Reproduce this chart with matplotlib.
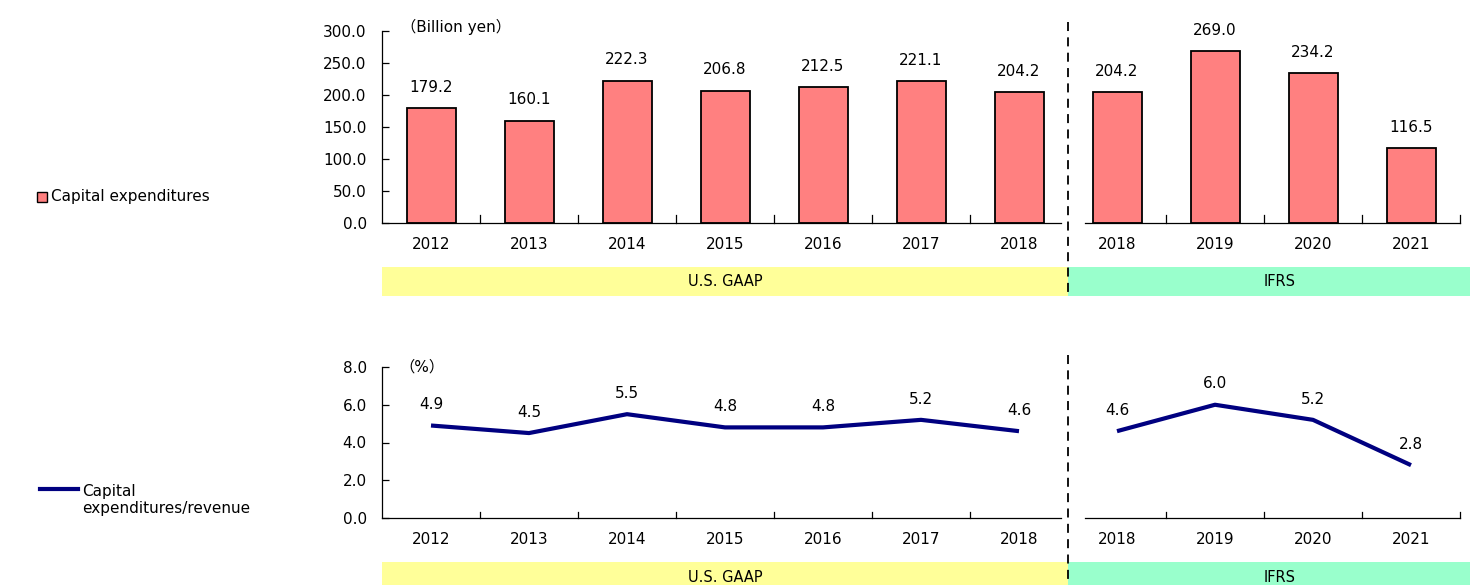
import numpy as np
import matplotlib
matplotlib.use("Agg")
import matplotlib.pyplot as plt
from matplotlib.patches import Rectangle
from matplotlib.lines import Line2D

plt.rcParams['font.family'] = ['DejaVu Sans', 'Noto Sans CJK JP']

# data
years = ['2012', '2013', '2014', '2015', '2016', '2017', '2018',
         '2018', '2019', '2020', '2021']
capex = [179.2, 160.1, 222.3, 206.8, 212.5, 221.1, 204.2,
         204.2, 269.0, 234.2, 116.5]
capex_ratio = [4.9, 4.5, 5.5, 4.8, 4.8, 5.2, 4.6,
               4.6, 6.0, 5.2, 2.8]
n_gaap = 7  # first 7 points are U.S. GAAP, rest IFRS
standards = ['U.S. GAAP', 'IFRS']

W, H = 1470, 585
fig = plt.figure(figsize=(W / 100, H / 100), dpi=100)

bar_red = '#FF8080'
navy = '#000080'
yellow = '#FFFF99'
green = '#99FFCC'
fs = 11


def px_axes(left, top, right, bottom):
    # axes from pixel box (origin top-left)
    return fig.add_axes([left / W, 1 - bottom / H, (right - left) / W, (bottom - top) / H])


def px_rect(left, top, right, bottom, color):
    fig.add_artist(Rectangle((left / W, 1 - bottom / H), (right - left) / W, (bottom - top) / H,
                             transform=fig.transFigure, facecolor=color, edgecolor='none', zorder=0))


def style_axis(ax):
    x = np.arange(len(years))
    ax.set_xlim(-0.5, len(years) - 0.5)
    for s in ['top', 'right', 'bottom']:
        ax.spines[s].set_visible(False)
    ax.spines['left'].set_linewidth(0.9)
    # bottom axis line with a gap at the change of standard
    ax.plot([-0.5, n_gaap - 0.57], [0, 0], color='black', lw=0.9, clip_on=False, zorder=3)
    ax.plot([n_gaap - 0.33, len(years) - 0.5], [0, 0], color='black', lw=0.9, clip_on=False, zorder=3)
    ax.set_xticks(x)
    ax.set_xticklabels(years, fontsize=fs)
    ax.tick_params(axis='x', length=0, pad=10)
    bounds = [b + 0.5 for b in range(len(years)) if b != n_gaap - 1]
    for b in bounds:
        ax.plot([b, b], [0, 0.04], transform=ax.get_xaxis_transform(), color='black', lw=0.9, clip_on=False)
    ax.tick_params(axis='y', direction='in', length=5, width=0.9, labelsize=fs, pad=11)
    ax.axvline(n_gaap - 0.5, color='black', lw=1.3, ls=(0, (5, 3.5)))


# ---- top: capital expenditures (bars)
ax1 = px_axes(382, 31, 1460, 223)
x = np.arange(len(years))
ax1.bar(x, capex, width=0.5, color=bar_red, edgecolor='black', linewidth=1.3, zorder=2)
ax1.set_ylim(0, 300)
ax1.set_yticks(np.arange(0, 301, 50))
ax1.set_yticklabels([f'{v:.1f}' for v in np.arange(0, 301, 50)])
style_axis(ax1)
for xi, v in zip(x, capex):
    ax1.annotate(f'{v:.1f}', (xi, v), xytext=(0, 15), textcoords='offset points',
                 ha='center', va='center', fontsize=fs)
ax1.lines[-1].set_ydata([1.047, -0.38])
ax1.lines[-1].set_clip_on(False)
ax1.text(0.018, 1.02, '（Billion yen）', transform=ax1.transAxes, fontsize=fs, va='center', ha='left')

# ---- bottom: capex / revenue (line)
ax2 = px_axes(382, 367, 1460, 518)
ax2.plot(x[:n_gaap], capex_ratio[:n_gaap], color=navy, lw=3, solid_capstyle='butt', zorder=2)
ax2.plot(x[n_gaap:], capex_ratio[n_gaap:], color=navy, lw=3, solid_capstyle='butt', zorder=2)
ax2.set_ylim(0, 8)
ax2.set_yticks(np.arange(0, 9, 2))
ax2.set_yticklabels([f'{v:.1f}' for v in np.arange(0, 9, 2)])
style_axis(ax2)
for xi, v in zip(x, capex_ratio):
    ax2.annotate(f'{v:.1f}', (xi, v), xytext=(0, 15), textcoords='offset points',
                 ha='center', va='center', fontsize=fs)
ax2.lines[-1].set_ydata([1.079, -0.44])
ax2.lines[-1].set_clip_on(False)
ax2.text(0.016, 1.0, '（%）', transform=ax2.transAxes, fontsize=fs, va='center', ha='left')

# ---- standard bands under each chart
split_px = 1068
for top, bot, ty in [(267, 296, 281), (562, 590, 577)]:
    px_rect(382, top, split_px, bot, yellow)
    px_rect(split_px, top, W, bot, green)
    fig.text((382 + split_px) / 2 / W, 1 - ty / H, standards[0], ha='center', va='center', fontsize=fs - 0.5)
    fig.text(1280 / W, 1 - ty / H, standards[1], ha='center', va='center', fontsize=fs - 0.5)

# ---- legends on the left
fig.add_artist(Rectangle((37 / W, 1 - 202 / H), 10 / W, 10 / H, transform=fig.transFigure,
                         facecolor=bar_red, edgecolor='black', linewidth=1))
fig.text(51 / W, 1 - 197 / H, 'Capital expenditures', ha='left', va='center', fontsize=fs)
fig.add_artist(Line2D([40 / W, 78 / W], [1 - 489 / H, 1 - 489 / H], transform=fig.transFigure,
                      color=navy, lw=3))
fig.text(82 / W, 1 - 500 / H, 'Capital\nexpenditures/revenue', ha='left', va='center',
         fontsize=fs, linespacing=1.1)

fig.savefig('out.png', dpi=100)
